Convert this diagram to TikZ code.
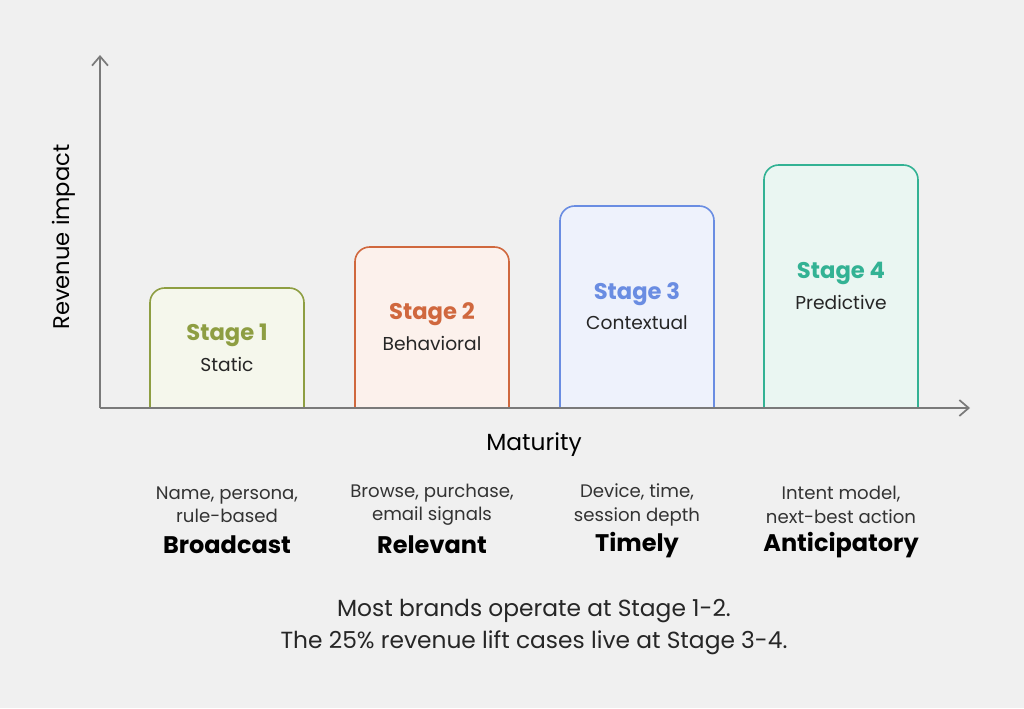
\documentclass[tikz,border=0pt]{standalone}
\usepackage{fontspec}
\setmainfont{Poppins}
\usetikzlibrary{arrows.meta}
\definecolor{bg}{HTML}{F0F0F0}
\definecolor{axis}{HTML}{7A7A7A}
\definecolor{sa}{HTML}{8E9E42}\definecolor{fa}{HTML}{F5F7EC}
\definecolor{sb}{HTML}{D0683E}\definecolor{fb}{HTML}{FCF1EC}
\definecolor{sc}{HTML}{6A8DE2}\definecolor{fc}{HTML}{EEF2FC}
\definecolor{sd}{HTML}{33B294}\definecolor{fd}{HTML}{EAF6F2}
\begin{document}
\begin{tikzpicture}[x=0.75pt,y=-0.75pt,
  ax/.style={draw=axis,line width=1.3pt,-{Straight Barb[length=7pt,width=12pt]}},
  bar/.style={line width=1.2pt,rounded corners=11pt},
  ttl/.style={font=\fontsize{17}{19}\selectfont\bfseries},
  sub/.style={font=\fontsize{14}{16}\selectfont,text=black!85},
  sm/.style={font=\fontsize{13.6}{17.5}\selectfont,text=black!80,align=center},
  big/.style={font=\fontsize{18}{20}\selectfont\bfseries,text=black}]
\fill[bg] (0,0) rectangle (1024,708);
\useasboundingbox (0,0) rectangle (1024,708);
\coordinate (o) at (100,408);
\coordinate (yt) at (100,55);
\coordinate (xt) at (970,408);
\foreach \l/\c/\s/\f/\t/\ty/\sb in {1/227/sa/fa/288/335/Static,2/432/sb/fb/247/314/Behavioral,3/637/sc/fc/206/294/Contextual,4/841/sd/fd/165/273/Predictive}{
  \draw[bar,draw=\s,fill=\f] (\c-77,408) -- (\c-77,\t) -- (\c+77,\t) -- (\c+77,408);
  \node[ttl,text=\s] (t\l) at (\c,\ty) {Stage \l};
  \node[sub] (s\l) at (\c,\ty+29) {\sb};
}
\draw[ax] (o) -- (yt);
\draw[ax] (o) -- (xt);
\node[rotate=90,font=\fontsize{17}{19}\selectfont] (yl) at (64,237) {Revenue impact};
\node[font=\fontsize{17.5}{19}\selectfont] (xl) at (534,445) {Maturity};
\node[sm] (d1) at (227,505) {Name, persona,\\rule-based};
\node[sm] (d2) at (432,505) {Browse, purchase,\\email signals};
\node[sm] (d3) at (637,505) {Device, time,\\session depth};
\node[sm] (d4) at (841,505) {Intent model,\\next-best action};
\node[big] (b1) at (227,545) {Broadcast};
\node[big] (b2) at (432,545) {Relevant};
\node[big] (b3) at (637,545) {Timely};
\node[big] (b4) at (841,545) {Anticipatory};
\node[font=\fontsize{17.5}{24.5}\selectfont,align=center,text=black!85] (note) at (534,627) {Most brands operate at Stage 1-2.\\The 25\% revenue lift cases live at Stage 3-4.};
\end{tikzpicture}
\end{document}
